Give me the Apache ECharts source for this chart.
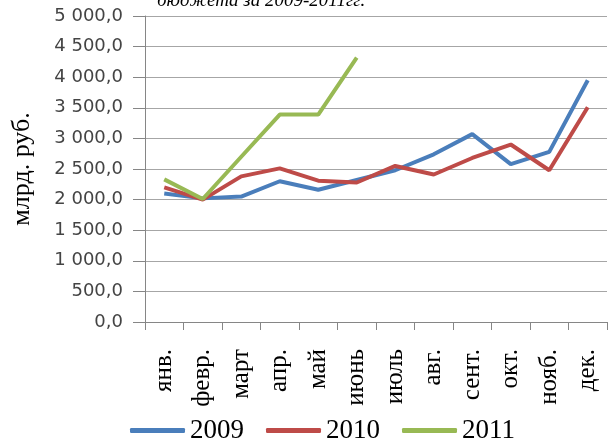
<!DOCTYPE html>
<html>
<head>
<meta charset="utf-8">
<script src="https://cdn.jsdelivr.net/npm/echarts@6/dist/echarts.min.js"></script>
<style>
  html, body { margin: 0; padding: 0; background: #fff; }
  #chart { width: 610px; height: 439px; }
</style>
</head>
<body>
<div id="chart"></div>
<script>
// months along the x axis
var months = ['янв.', 'февр.', 'март', 'апр.', 'май', 'июнь', 'июль', 'авг.', 'сент.', 'окт.', 'нояб.', 'дек.'];

// values, млрд. руб.
var y2009 = [2100, 2020, 2050, 2300, 2160, 2320, 2480, 2740, 3070, 2580, 2780, 3950];
var y2010 = [2200, 2000, 2380, 2510, 2310, 2280, 2550, 2410, 2680, 2900, 2480, 3510];
var y2011 = [2330, 2010, 2700, 3390, 3390, 4320, null, null, null, null, null, null];

var seriesNames = ['2009', '2010', '2011'];
var colors = ['#4a7ebb', '#be4b48', '#98b954'];

var serif = '"Liberation Serif", "Times New Roman", serif';

/* "5 000,0" style numbers */
function fmt(v){
    var s = String(Math.round(v));
    s = s.replace(/\B(?=(\d{3})+(?!\d))/g, ' ');
    return s + ',0';
}

var myChart = echarts.init(document.getElementById('chart'), null, {renderer: 'canvas'});

function makeLine(name, data, color){
    return {
        name: name,
        type: 'line',
        data: data,
        symbol: 'none',
        connectNulls: false,
        lineStyle: { color: color, width: 4 },
        itemStyle: { color: color },
        emphasis: { disabled: true }
    };
}

var option = {
    animation: false,
    color: colors,
    graphic: [{
        type: 'text',
        left: 157,
        top: -9,
        style: {
            text: 'бюджета за 2009-2011гг.',
            font: 'italic 19px ' + serif,
            fill: '#000'
        }
    }],
    grid: { left: 145, right: 3, top: 16, bottom: 117, containLabel: false },
    legend: {
        data: seriesNames,
        icon: 'roundRect',
        left: 125,
        top: 412,
        itemWidth: 55,
        itemHeight: 5,
        itemGap: 22,
        textStyle: { fontFamily: serif, fontSize: 27, color: '#000' }
    },
    xAxis: {
        type: 'category',
        data: months,
        boundaryGap: true,
        axisLine: { lineStyle: { color: '#868686', width: 1 } },
        axisTick: { show: true, length: 8, lineStyle: { color: '#868686' } },
        axisLabel: {
            rotate: 90,
            margin: 27,
            fontFamily: serif,
            fontSize: 25,
            color: '#000'
        }
    },
    yAxis: {
        type: 'value',
        min: 0,
        max: 5000,
        interval: 500,
        name: 'млрд. руб.',
        nameLocation: 'middle',
        nameGap: 110,
        nameTextStyle: { fontFamily: serif, fontSize: 26, color: '#000' },
        axisLine: { show: true, lineStyle: { color: '#868686', width: 1 } },
        axisTick: { show: true, length: 12, lineStyle: { color: '#868686' } },
        splitLine: { lineStyle: { color: '#a6a6a6', width: 1 } },
        axisLabel: {
            margin: 22,
            fontFamily: 'DejaVu Sans',
            fontSize: 18,
            color: '#444',
            formatter: fmt
        }
    },
    series: [
        makeLine(seriesNames[0], y2009, colors[0]),
        makeLine(seriesNames[1], y2010, colors[1]),
        makeLine(seriesNames[2], y2011, colors[2])
    ]
};
myChart.setOption(option);
</script>
</body>
</html>
